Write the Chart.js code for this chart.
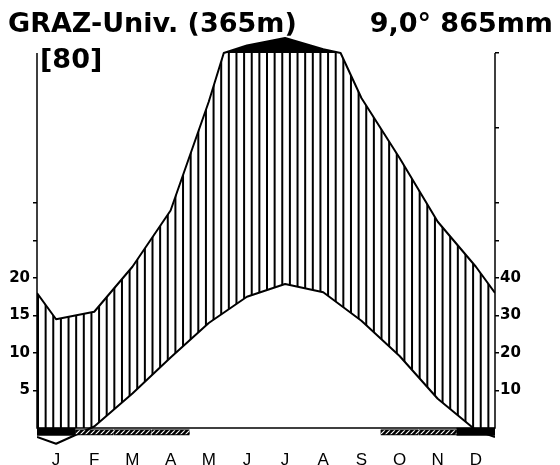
<!DOCTYPE html>
<html>
<head>
<meta charset="utf-8">
<script src="https://cdn.jsdelivr.net/npm/chart.js@4.4.1/dist/chart.umd.min.js"></script>
<style>
  html, body { margin: 0; padding: 0; background: #fff; }
</style>
</head>
<body>
<canvas id="climate" width="560" height="465"></canvas>
<script>
// Klimadiagramm Graz-Universität (Walter-Lieth)
const STATION = 'GRAZ-Univ. (365m)';
const SUMMARY = '9,0° 865mm';
const YEARS = '[80]';

const MONTHS = ['J', 'F', 'M', 'A', 'M', 'J', 'J', 'A', 'S', 'O', 'N', 'D'];
const TEMP = [-2.1, 0.2, 4.6, 9.4, 14.0, 17.5, 19.2, 18.1, 14.3, 9.6, 3.9, -0.3]; // °C
const PRECIP = [29, 31, 43, 58, 87, 120, 140, 110, 88, 72, 55, 43];              // mm

const TEMP_TICKS = [5, 10, 15, 20, 25, 30];
const TEMP_LABELS = [5, 10, 15, 20];
const PRECIP_TICKS = [10, 20, 30, 40, 50, 60, 80, 100];
const PRECIP_LABELS = [10, 20, 30, 40];

// frost: black = mean daily minimum below 0, hatched = absolute minimum below 0
const FROST_BLACK = [0, 11];
const FROST_HATCH = [1, 2, 3, 9, 10];

// 10 °C = 20 mm, above 100 mm reduced to 1/10
const toScale = p => p <= 100 ? p / 2 : 50 + (p - 100) / 20;

// month values at mid-month, edges take the Dec/Jan mean
function yearCurve(vals) {
  const edge = (vals[0] + vals[11]) / 2;
  return [[0, edge], ...vals.map((v, i) => [i + 0.5, v]), [12, edge]];
}

// insert the points where the polyline crosses a level
function withCrossings(pts, level) {
  const out = [pts[0]];
  for (let i = 1; i < pts.length; i++) {
    const [x0, y0] = pts[i - 1];
    const [x1, y1] = pts[i];
    if ((y0 - level) * (y1 - level) < 0) {
      const t = (level - y0) / (y1 - y0);
      out.push([x0 + t * (x1 - x0), level]);
    }
    out.push(pts[i]);
  }
  return out;
}

const precipPts = withCrossings(yearCurve(PRECIP), 100);
const precipLine = precipPts.map(([x, p]) => ({ x, y: toScale(p) }));
const precipHumid = precipPts.map(([x, p]) => ({ x, y: Math.min(toScale(p), 50) }));
const tempLine = yearCurve(TEMP).map(([x, t]) => ({ x, y: t }));
const tempFloor = withCrossings(yearCurve(TEMP), 0).map(([x, t]) => ({ x, y: Math.max(t, 0) }));

const blackBars = FROST_BLACK.map(i => ({ x: i + 0.5, y: [-1.0, 0] }));
const hatchBars = FROST_HATCH.map(i => ({ x: i + 0.5, y: [-0.95, -0.2] }));

const axisFont = { family: '"DejaVu Sans", sans-serif', size: 15, weight: 'bold' };

// diagonal "////" fill of the frost bar
function diagonalStripes() {
  const s = 5;
  const c = document.createElement('canvas');
  c.width = s; c.height = s;
  const g = c.getContext('2d');
  g.fillStyle = '#000';
  g.fillRect(0, 0, s, s);
  g.strokeStyle = '#fff';
  g.lineWidth = 1.1;
  g.beginPath();
  g.moveTo(0, s); g.lineTo(s, 0);
  g.moveTo(-s, s); g.lineTo(0, 0);
  g.moveTo(0, 2 * s); g.lineTo(2 * s, 0);
  g.stroke();
  return g.createPattern(c, 'repeat');
}

// axis frame: the two verticals end at 50 °C / 100 mm
const frame = {
  id: 'frame',
  afterDatasetsDraw(chart) {
    const { ctx, scales: { x, y } } = chart;
    const xl = x.getPixelForValue(0), xr = x.getPixelForValue(12);
    const y0 = y.getPixelForValue(0), yt = y.getPixelForValue(50);
    ctx.save();
    ctx.strokeStyle = '#000';
    ctx.lineWidth = 1.5;
    ctx.beginPath();
    ctx.moveTo(xl, yt);
    ctx.lineTo(xl, y0);
    ctx.lineTo(xr, y0);
    ctx.lineTo(xr, yt);
    ctx.stroke();
    ctx.restore();
  }
};

const header = {
  id: 'header',
  afterDraw(chart) {
    const ctx = chart.ctx;
    ctx.save();
    ctx.fillStyle = '#000';
    ctx.font = 'bold 27px "DejaVu Sans", sans-serif';
    ctx.textBaseline = 'alphabetic';
    ctx.textAlign = 'left';
    ctx.fillText(STATION, 8, 32);
    ctx.fillText(YEARS, 40, 68);
    ctx.textAlign = 'right';
    ctx.fillText(SUMMARY, 553, 32);
    ctx.restore();
  }
};

const chart = new Chart(document.getElementById('climate'), {
  type: 'line',
  data: {
    datasets: [
      { type: 'bar', data: blackBars, backgroundColor: '#000', borderWidth: 0,
        grouped: false, barPercentage: 1, categoryPercentage: 1, order: 0 },
      { type: 'bar', data: hatchBars, backgroundColor: diagonalStripes(), borderColor: '#000',
        borderWidth: { top: 1.2, bottom: 1.2, left: 0, right: 0 }, borderSkipped: false,
        grouped: false, barPercentage: 1, categoryPercentage: 1, order: 0 },
      { data: tempFloor, borderWidth: 0, pointRadius: 0, fill: false, order: 2 },
      { data: precipHumid, borderWidth: 0, pointRadius: 0, order: 2,
        fill: { target: 2, above: '#000', below: 'rgba(0,0,0,0)' } },
      { data: precipLine, borderColor: '#000', borderWidth: 2, pointRadius: 0, order: 1,
        fill: { target: { value: 50 }, above: '#000', below: 'rgba(0,0,0,0)' } },
      { data: tempLine, borderColor: '#000', borderWidth: 2, pointRadius: 0, fill: false, order: 1 }
    ]
  },
  options: {
    responsive: false,
    animation: false,
    layout: { padding: { top: 30.5, right: 0, bottom: 0, left: 0 } },
    elements: { line: { tension: 0, borderJoinStyle: 'round' } },
    plugins: { legend: { display: false }, tooltip: { enabled: false } },
    scales: {
      x: {
        type: 'linear', min: 0, max: 12, offset: false,
        afterBuildTicks: s => { s.ticks = MONTHS.map((m, i) => ({ value: i + 0.5 })); },
        afterFit: s => { s.height = 14.5; },
        grid: { display: false, drawTicks: false },
        border: { display: false },
        ticks: {
          callback: (v, i) => MONTHS[i],
          autoSkip: false, maxRotation: 0, padding: 0, color: '#000',
          font: { family: '"Liberation Sans", sans-serif', size: 17 }
        }
      },
      y: {
        position: 'left', min: -3, max: 53,
        afterBuildTicks: s => { s.ticks = TEMP_TICKS.map(v => ({ value: v })); },
        afterFit: s => { s.width = 37; },
        grid: { drawOnChartArea: false, tickLength: 4, color: '#000', lineWidth: 1.5 },
        border: { display: false },
        ticks: {
          callback: v => TEMP_LABELS.includes(v) ? String(v) : '',
          padding: 3, color: '#000', font: axisFont
        }
      },
      y2: {
        position: 'right', min: -6, max: 106,
        afterBuildTicks: s => { s.ticks = PRECIP_TICKS.map(v => ({ value: v })); },
        afterFit: s => { s.width = 65; },
        grid: { drawOnChartArea: false, tickLength: 4, color: '#000', lineWidth: 1.5 },
        border: { display: false },
        ticks: {
          callback: v => PRECIP_LABELS.includes(v) ? String(v) : '',
          padding: 1, color: '#000', font: axisFont
        }
      }
    }
  },
  plugins: [frame, header]
});

// vertical hatching of the humid period, 5 strokes per month from the left axis
function verticalStripes(area, perMonth) {
  const n = 12 * perMonth;
  const c = document.createElement('canvas');
  c.width = Math.round(area.right - area.left);
  c.height = 4;
  const g = c.getContext('2d');
  g.fillStyle = '#000';
  const step = c.width / n;
  for (let k = 0; k < n; k++) g.fillRect(k * step, 0, 2, 4);
  const p = chart.ctx.createPattern(c, 'repeat');
  p.setTransform(new DOMMatrix().translate(area.left, 0));
  return p;
}

chart.data.datasets[3].fill.above = verticalStripes(chart.chartArea, 5);
chart.update('none');
</script>
</body>
</html>
